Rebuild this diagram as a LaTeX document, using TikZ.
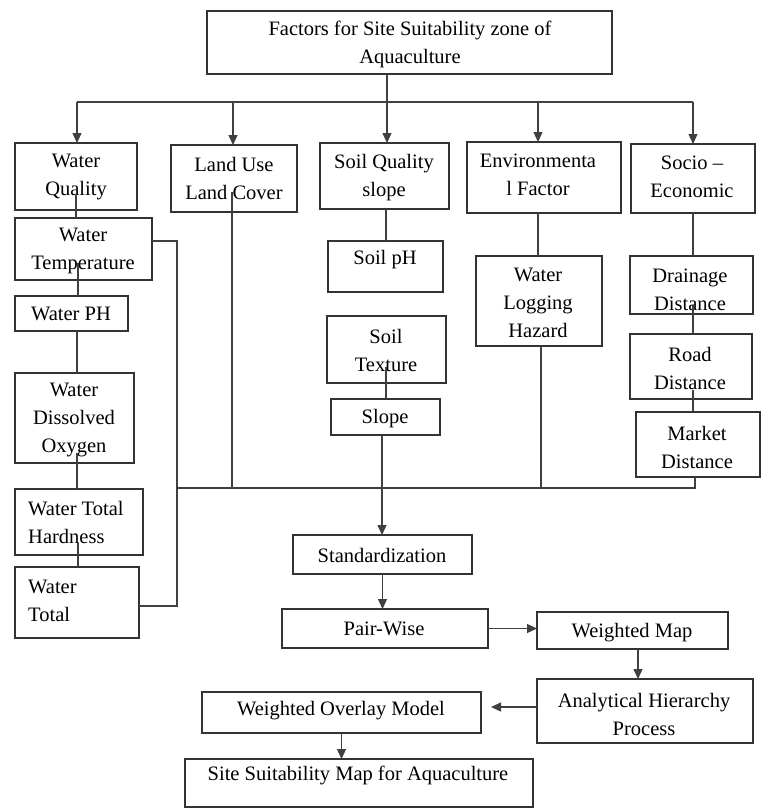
\documentclass[tikz,border=0pt]{standalone}
\usepackage{fontspec}
\setmainfont{Liberation Serif}
\usetikzlibrary{arrows.meta,calc}
\tikzset{
  box/.style={draw=black!80, line width=1.3pt, rectangle, inner sep=0pt, outer sep=0pt},
  txt/.style={inner sep=0pt, align=center, font=\fontsize{20.5}{28}\selectfont, text=black},
  txtl/.style={txt, align=left, anchor=west},
  conn/.style={draw=black!75, line width=1.3pt},
  arr/.style={conn, -{Triangle[length=10pt,width=9pt]}},
}
\newcommand\mybox[5]{%
  \pgfmathsetmacro\myBW{#4-#2}\pgfmathsetmacro\myBH{#5-#3}%
  \node[box, minimum width=\myBW pt, minimum height=\myBH pt] (#1) at ({(#2+#4)/2},{(#3+#5)/2}) {};}
\begin{document}
\begin{tikzpicture}[x=1pt,y=-1pt]
\useasboundingbox (0,0) rectangle (763,809);
% boxes
\mybox{top}{207}{11}{612}{74}
\mybox{wq}{15}{143}{137}{210}
\mybox{lu}{171}{145}{297}{212}
\mybox{sq}{320}{143}{449}{209}
\mybox{env}{467}{142}{621}{213}
\mybox{se}{631}{144}{755}{213}
\mybox{wt}{15}{218}{152}{280}
\mybox{wph}{15}{296}{128}{331}
\mybox{wdo}{15}{373}{134}{463}
\mybox{wth}{15}{489}{143}{555}
\mybox{wtt}{15}{567}{139}{638}
\mybox{sph}{328}{241}{443}{292}
\mybox{stx}{327}{316}{446}{383}
\mybox{slp}{331}{399}{440}{435}
\mybox{wlh}{476}{256}{602}{346}
\mybox{dd}{630}{256}{753}{314}
\mybox{rd}{630}{334}{752}{399}
\mybox{md}{636}{412}{760}{477}
\mybox{std}{293}{535}{472}{574}
\mybox{pw}{282}{609}{488}{648}
\mybox{wm}{537}{612}{728}{649}
\mybox{ahp}{537}{679}{753}{743}
\mybox{wom}{202}{692}{481}{733}
\mybox{ssm}{185}{759}{533}{807}
% texts
\node[txt] (top-t) at (410,44) {Factors for Site Suitability zone of\\Aquaculture};
\node[txt] (wq-t) at (76,177) {Water\\Quality};
\node[txt] (lu-t) at (234,178) {Land Use\\Land Cover};
\node[txt] (sq-t) at (384,178) {Soil Quality\\slope};
\node[txt] (env-t) at (538,175) {Environmenta\\l Factor};
\node[txt] (se-t) at (692,177) {Socio –\\Economic};
\node[txt] (wt-t) at (83,251) {Water\\Temperature};
\node[txt] (wph-t) at (71,314) {Water PH};
\node[txt] (wdo-t) at (74,420) {Water\\Dissolved\\Oxygen};
\node[txtl] (wth-t) at (28,522) {Water Total\\Hardness};
\node[txtl] (wtt-t) at (28,601) {Water\\Total};
\node[txt] (sph-t) at (385,260) {Soil pH};
\node[txt] (stx-t) at (386,350) {Soil\\Texture};
\node[txt] (slp-t) at (385,419) {Slope};
\node[txt] (wlh-t) at (538,303) {Water\\Logging\\Hazard};
\node[txt] (dd-t) at (690,290) {Drainage\\Distance};
\node[txt] (rd-t) at (690,368) {Road\\Distance};
\node[txt] (md-t) at (697,447) {Market\\Distance};
\node[txt] (std-t) at (382,555) {Standardization};
\node[txt] (pw-t) at (384,629) {Pair-Wise};
\node[txt] (wm-t) at (632,633) {Weighted Map};
\node[txt] (ahp-t) at (644,714) {Analytical Hierarchy\\Process};
\node[txt] (wom-t) at (341,711) {Weighted Overlay Model};
\node[txt] (ssm-t) at (358,775) {Site Suitability Map for Aquaculture};
% coordinates
\coordinate (topout) at (387,74);
\coordinate (h1) at (77,102);
\coordinate (h2) at (233,102);
\coordinate (h3) at (387,102);
\coordinate (h4) at (538,102);
\coordinate (h5) at (693,102);
\coordinate (a1) at (76,195);
\coordinate (a2) at (78,263);
\coordinate (a3) at (77,331);
\coordinate (a4) at (77,453);
\coordinate (a5) at (78,543);
\coordinate (b1) at (177,241);
\coordinate (b2) at (177,606);
\coordinate (m1) at (177,488);
\coordinate (m2) at (696,488);
\coordinate (l1) at (232,192);
\coordinate (s1) at (386,209);
\coordinate (s2) at (386,367);
\coordinate (s3) at (382,435);
\coordinate (e1) at (538,213);
\coordinate (e2) at (541,346);
\coordinate (f1) at (693,213);
\coordinate (f2) at (693,305);
\coordinate (f3) at (693,390);
\coordinate (f4) at (695,477);
\coordinate (w1) at (638,649);
\coordinate (w2) at (491,707);
% top distribution
\draw[conn] (topout) -- (h3);
\draw[conn] (h1) -- (h5);
\draw[arr] (h1) -- (h1 |- wq.north);
\draw[arr] (h2) -- (h2 |- lu.north);
\draw[arr] (h3) -- (h3 |- sq.north);
\draw[arr] (h4) -- (h4 |- env.north);
\draw[arr] (h5) -- (h5 |- se.north);
% water chain
\draw[conn] (a1) -- (a1 |- wt.north);
\draw[conn] (a2) -- (a2 |- wph.north);
\draw[conn] (a3) -- (a3 |- wdo.north);
\draw[conn] (a4) -- (a4 |- wth.north);
\draw[conn] (a5) -- (a5 |- wtt.north);
\draw[conn] (wt.east |- b1) -- (b1) -- (b2) -- (wtt.east |- b2);
\draw[conn] (m1) -- (m2);
\draw[conn] (l1) -- (l1 |- m1);
% soil chain
\draw[conn] (s1) -- (s1 |- sph.north);
\draw[conn] (s2) -- (s2 |- slp.north);
\draw[arr] (s3) -- (s3 |- std.north);
% environmental
\draw[conn] (e1) -- (e1 |- wlh.north);
\draw[conn] (e2) -- (e2 |- m1);
% socio
\draw[conn] (f1) -- (f1 |- dd.north);
\draw[conn] (f2) -- (f2 |- rd.north);
\draw[conn] (f3) -- (f3 |- md.north);
\draw[conn] (f4) -- (f4 |- m1);
% process
\draw[arr] (std.south) -- (std.south |- pw.north);
\draw[arr] (pw.east) -- (pw.east -| wm.west);
\draw[arr] (w1) -- (w1 |- ahp.north);
\draw[arr] (ahp.west |- w2) -- (w2);
\draw[arr] (wom.south) -- (wom.south |- ssm.north);
\end{tikzpicture}
\end{document}
